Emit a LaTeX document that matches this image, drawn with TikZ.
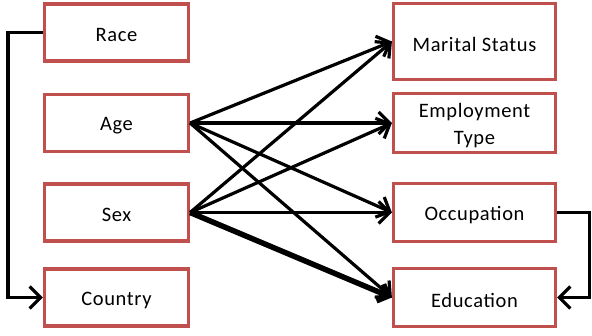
\documentclass[tikz,border=0pt]{standalone}
\usepackage{fontspec}
\setmainfont{Carlito}[LetterSpace=3]
\usetikzlibrary{arrows.meta}
\definecolor{boxred}{RGB}{192,80,77}
\begin{document}
\begin{tikzpicture}[x=1pt,y=-1pt,
  box/.style={draw=boxred, line width=3.2pt, fill=white, inner sep=0pt,
    label={[font=\fontsize{20.5}{27}\selectfont, align=center, yshift=-2.5pt]center:#1}},
  lbox/.style={box=#1, minimum width=144pt, minimum height=57pt},
  rbox/.style={box=#1, minimum width=162pt, minimum height=58pt},
  arr/.style={line width=3.2pt, -{Straight Barb[length=11pt,width=22pt]}},
  thickarr/.style={line width=5.5pt, -{Straight Barb[length=9pt,width=18pt]}}]
\useasboundingbox (0,0) rectangle (592,335);
\node[lbox=Race] (race) at (116.5,32.5) {};
\node[lbox=Age] (age) at (116.5,123) {};
\node[lbox=Sex] (sex) at (116.5,212.5) {};
\node[lbox=Country] (country) at (116.5,297.5) {};
\node[rbox=Marital Status, minimum height=76pt] (marital) at (474.5,41.5) {};
\node[rbox={Employment\\Type}, minimum height=59pt] (employ) at (474.5,123) {};
\node[rbox=Occupation] (occ) at (474.5,212.5) {};
\node[rbox=Education] (edu) at (474.5,297.5) {};
\draw[arr] (age.east) -- (marital.west);
\draw[arr] (age.east) -- (employ.west);
\draw[arr] (age.east) -- (occ.west);
\draw[arr] (age.east) -- (edu.west);
\draw[arr] (sex.east) -- (marital.west);
\draw[arr] (sex.east) -- (employ.west);
\draw[arr] (sex.east) -- (occ.west);
\draw[thickarr] (sex.east) -- (edu.west);
\draw[arr] (race.west) -- ++(-35,0) |- (country.west);
\draw[arr] (occ.east) -- ++(32,0) |- (edu.east);
\end{tikzpicture}
\end{document}
